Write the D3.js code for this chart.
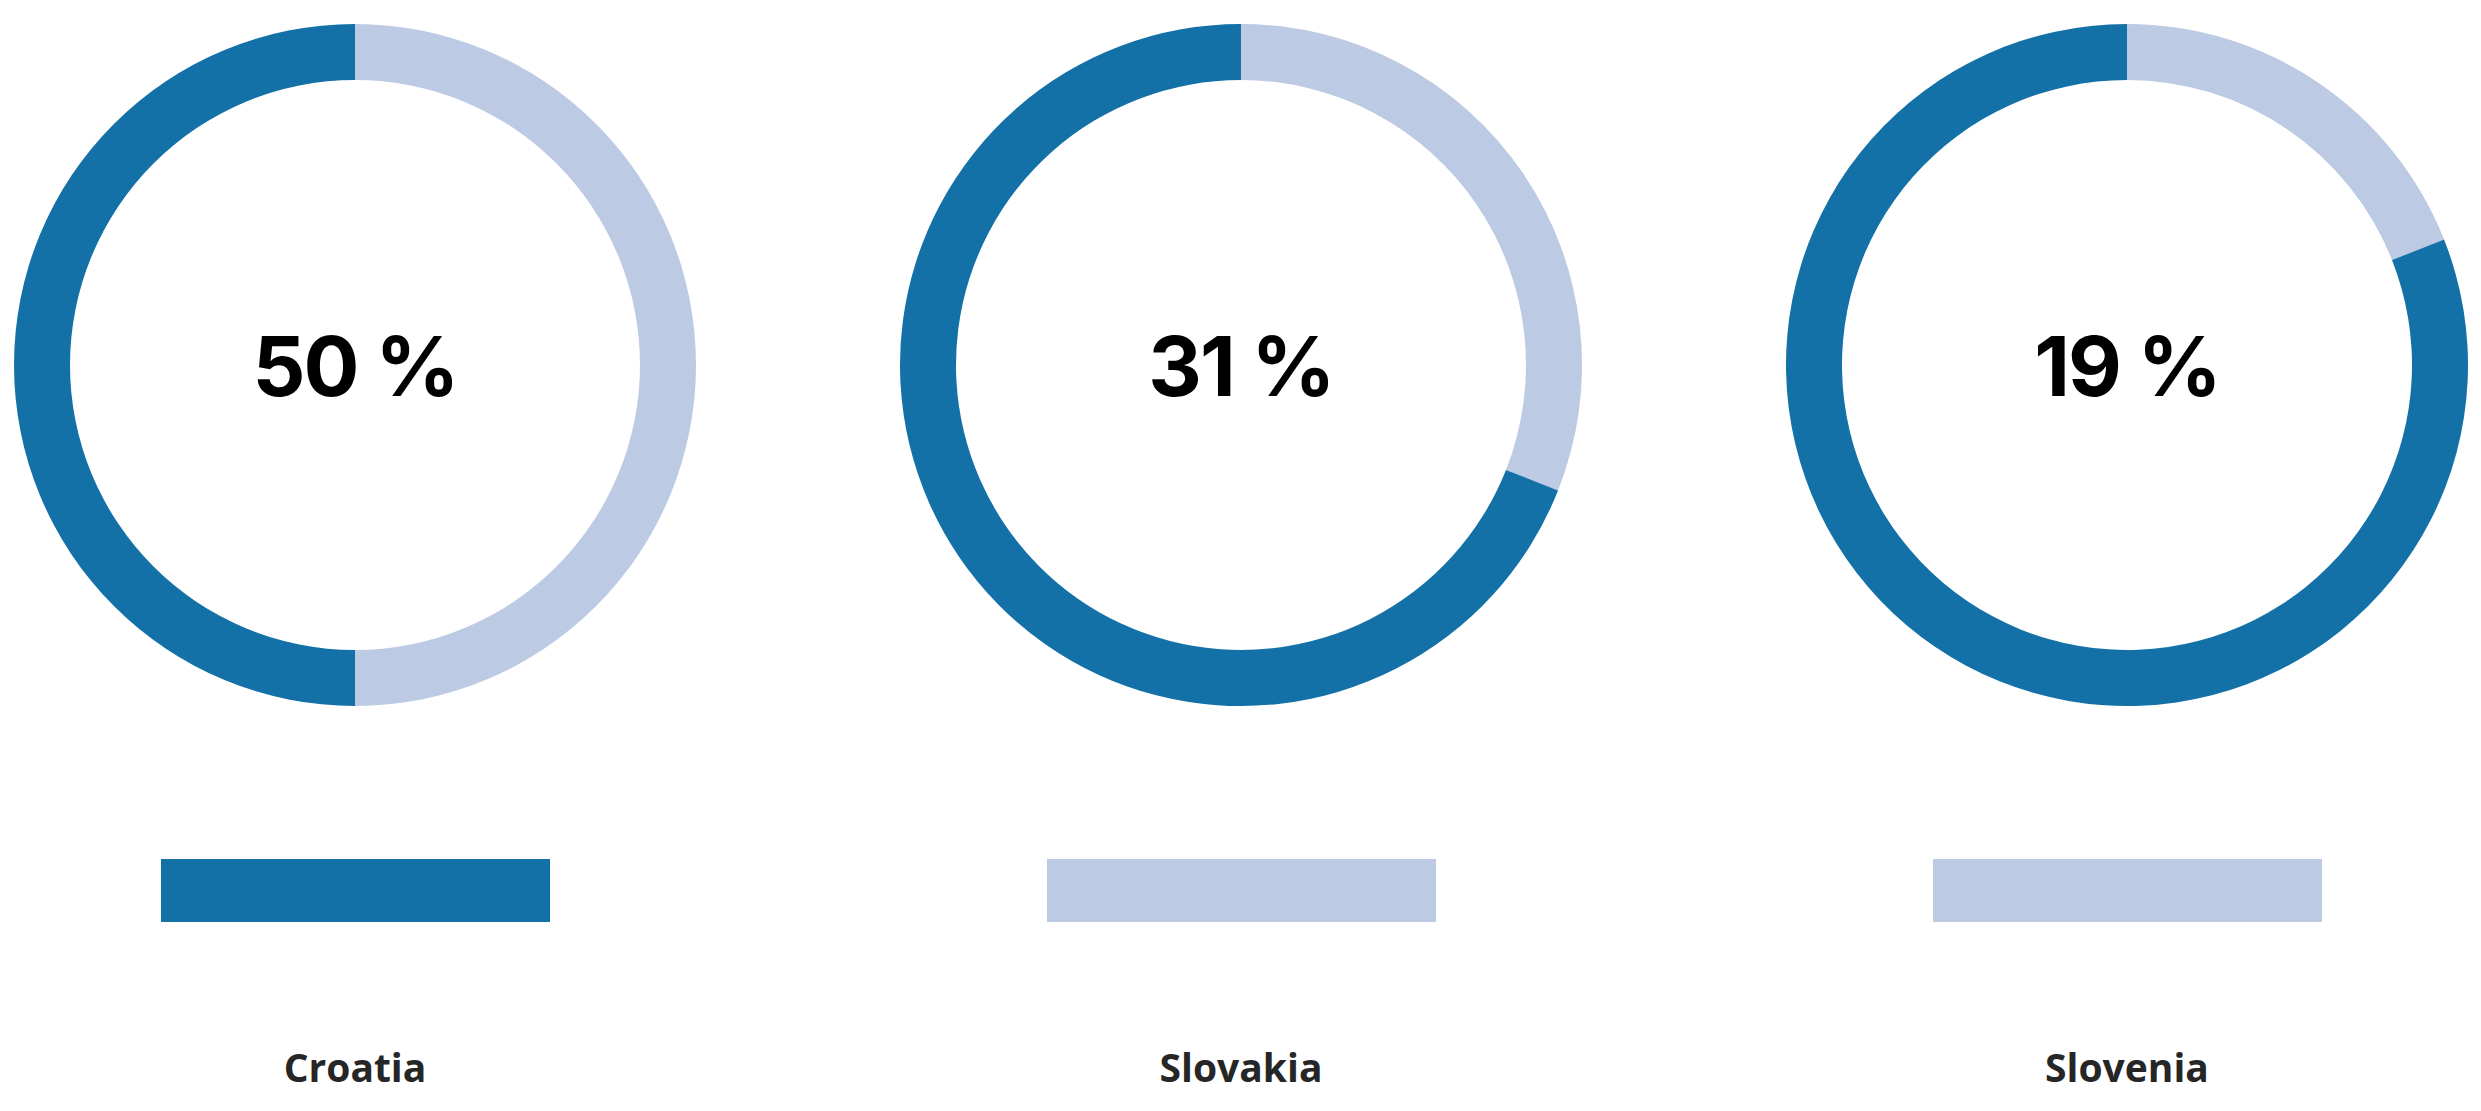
<!DOCTYPE html>
<html>
<head>
<meta charset="utf-8">
<script src="https://cdn.jsdelivr.net/npm/d3@7"></script>
<style>
html,body{margin:0;padding:0;background:#fff;}
svg{display:block;}
</style>
</head>
<body>
<svg id="chart" width="2481" height="1111"></svg>
<script>
const countries = ["Croatia", "Slovakia", "Slovenia"];
const values = [50, 31, 19];
const valueLabels = ["50 %", "31 %", "19 %"];
const legendHighlight = [true, false, false];

const W = 2481, H = 1111;
const darkColor = "#1371a7";
const lightColor = "#bccae3";
const outerR = 341, innerR = 285;
const cy = 365;

const svg = d3.select("#chart");
const x = d3.scalePoint().domain(countries).range([355, 2127]);

const pie = d3.pie().sort(null).value(d => d.v).startAngle(0).endAngle(2 * Math.PI);
const arc = d3.arc().innerRadius(innerR).outerRadius(outerR);

countries.forEach((c, i) => {
  const g = svg.append("g").attr("transform", `translate(${x(c)},${cy})`);
  const data = [{k: "value", v: values[i]}, {k: "rest", v: 100 - values[i]}];
  g.selectAll("path").data(pie(data)).join("path")
    .attr("d", arc)
    .attr("fill", d => d.data.k === "value" ? lightColor : darkColor);
  g.append("text")
    .attr("x", 0).attr("y", 31)
    .attr("text-anchor", "middle")
    .attr("font-family", "Inter, 'Noto Sans', sans-serif")
    .attr("font-weight", 700)
    .attr("font-size", 83)
    .attr("letter-spacing", -2)
    .attr("fill", "#000")
    .text(valueLabels[i]);

  svg.append("rect")
    .attr("x", x(c) - 194).attr("y", 859)
    .attr("width", 389).attr("height", 63)
    .attr("fill", legendHighlight[i] ? darkColor : lightColor);

  svg.append("text")
    .attr("x", x(c)).attr("y", 1082)
    .attr("text-anchor", "middle")
    .attr("font-family", "'Open Sans', sans-serif")
    .attr("font-weight", 700)
    .attr("font-size", 39)
    .attr("fill", "#262626")
    .text(c);
});
</script>
</body>
</html>
